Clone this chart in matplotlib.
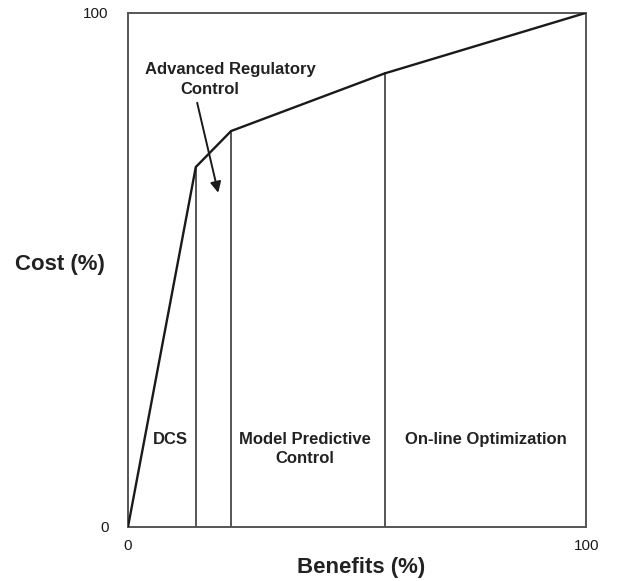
"""Cost vs. benefits of process control layers."""

import matplotlib
matplotlib.use("Agg")
import matplotlib.pyplot as plt
import numpy as np

# Cumulative curve (benefits %, cost %)
benefits = [0, 14.8, 22.5, 56.0, 100]
cost = [0, 70.0, 77.0, 88.2, 100]

# Layer boundaries drawn down to the x axis
boundaries = [14.8, 22.5, 56.0]

layer_labels = ["DCS", "Model Predictive\nControl", "On-line Optimization"]
layer_x = [9.2, 38.6, 78.0]
x_ticks = [0, 100]
y_ticks = [0, 100]

INK = "#1a1a1a"
FRAME = "#555555"


def main() -> None:
    plt.rcParams.update({"font.family": ["Liberation Sans", "DejaVu Sans"]})
    fig = plt.figure(figsize=(6.32, 5.81), dpi=100)
    ax = fig.add_axes([0.2025, 0.093, 0.725, 0.885])
    ax.set_xlim(0, 100)
    ax.set_ylim(0, 100)

    ax.plot(benefits, cost, color=INK, lw=1.7, solid_joinstyle="miter", zorder=3)
    curve_at = np.interp(boundaries, benefits, cost)
    for bx, top in zip(boundaries, curve_at):
        ax.plot([bx, bx], [0, top], color=FRAME, lw=1.4, zorder=2)

    for spine in ax.spines.values():
        spine.set_color(FRAME)
        spine.set_linewidth(1.4)

    ax.set_xticks(x_ticks)
    ax.set_yticks(y_ticks)
    ax.set_xticklabels([str(t) for t in x_ticks])
    ax.set_yticklabels([str(t) for t in y_ticks])
    ax.tick_params(length=0, labelsize=11, colors=INK)
    ax.tick_params(axis="x", pad=9)
    ax.tick_params(axis="y", pad=14)
    ax.set_xlabel("Benefits (%)", fontsize=16, fontweight="bold", color="#222222",
                  va="center", ha="center")
    ax.xaxis.set_label_coords(0.509, -0.078)
    ax.set_ylabel("Cost (%)", fontsize=16, fontweight="bold", color="#222222",
                  rotation=0, va="center", ha="center")
    ax.yaxis.set_label_coords(-0.148, 0.51)

    for label, lx in zip(layer_labels, layer_x):
        ax.text(lx, 18.5, label, ha="center", va="top", fontsize=12,
                fontweight="bold", color="#222222", linespacing=1.35)

    ax.text(22.3, 88.9, "Advanced Regulatory", ha="center", va="center",
            fontsize=12, fontweight="bold", color="#222222")
    ax.text(17.9, 85.0, "Control", ha="center", va="center",
            fontsize=12, fontweight="bold", color="#222222")
    ax.annotate("", xy=(19.7, 65.0), xytext=(15.1, 82.5),
                arrowprops=dict(arrowstyle="-|>", color=INK, lw=1.4,
                                shrinkA=0, shrinkB=0, mutation_scale=16))

    fig.savefig("out.png", dpi=100)
    plt.close(fig)


if __name__ == "__main__":
    main()
